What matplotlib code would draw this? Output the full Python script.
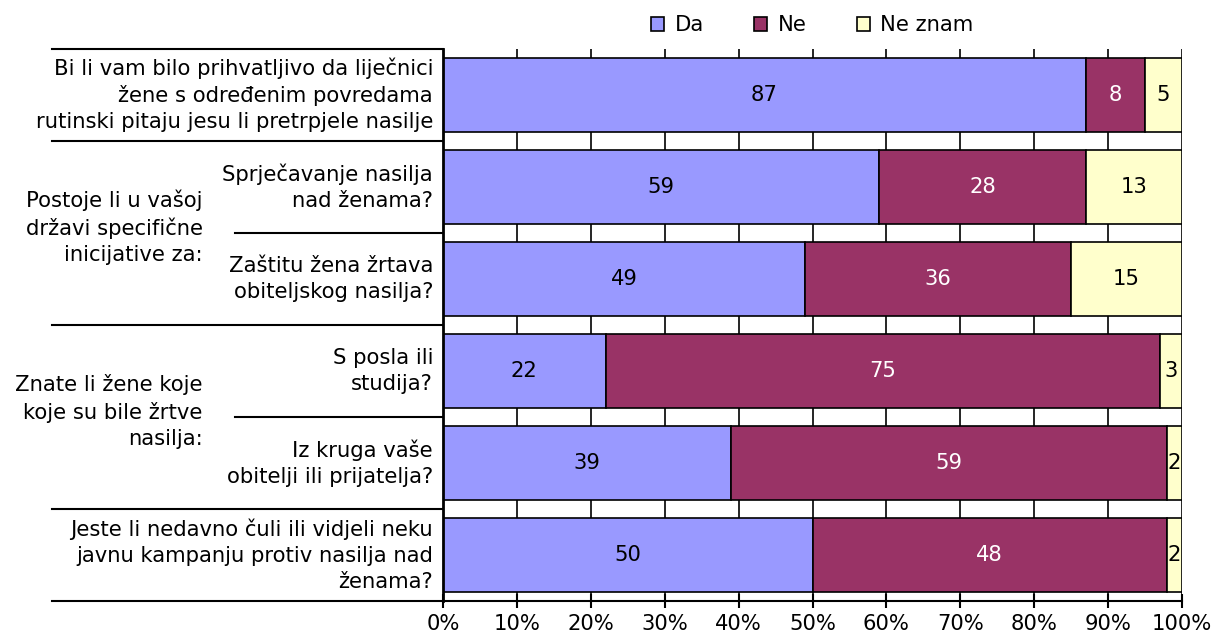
import matplotlib
matplotlib.use('Agg')
import matplotlib.pyplot as plt
import matplotlib.transforms as mtransforms

# Data
series = ['Da', 'Ne', 'Ne znam']
colors = ['#9999FF', '#993366', '#FFFFCC']
text_colors = ['black', 'white', 'black']

da = [87, 59, 49, 22, 39, 50]
ne = [8, 28, 36, 75, 59, 48]
ne_znam = [5, 13, 15, 3, 2, 2]

row_labels = [
    'Bi li vam bilo prihvatljivo da liječnici\nžene s određenim povredama\nrutinski pitaju jesu li pretrpjele nasilje',
    'Sprječavanje nasilja\nnad ženama?',
    'Zaštitu žena žrtava\nobiteljskog nasilja?',
    'S posla ili\nstudija?',
    'Iz kruga vaše\nobitelji ili prijatelja?',
    'Jeste li nedavno čuli ili vidjeli neku\njavnu kampanju protiv nasilja nad\nženama?',
]
group_labels = [
    'Postoje li u vašoj\ndržavi specifične\ninicijative za:',
    'Znate li žene koje\nkoje su bile žrtve\nnasilja:',
]
group_rows = [(1, 2), (3, 4)]

FS = 15.2
plt.rcParams['font.family'] = ['DejaVu Sans']
plt.rcParams['font.size'] = FS

fig = plt.figure(figsize=(12.18, 6.35), dpi=100)
ax = fig.add_axes([443 / 1218, 1 - 601 / 635, (1182 - 443) / 1218, (601 - 49) / 635])

y = list(range(len(da)))
left = [0] * len(da)
for vals, name, col, tcol in zip([da, ne, ne_znam], series, colors, text_colors):
    bars = ax.barh(y, vals, left=left, height=0.81, color=col, edgecolor='black',
                   linewidth=1.2, label=name, zorder=2)
    ax.bar_label(bars, labels=[str(v) for v in vals], label_type='center',
                 color=tcol, fontsize=FS)
    left = [l + v for l, v in zip(left, vals)]

ax.set_xlim(0, 100)
ax.set_ylim(5.5, -0.5)
ax.set_xticks(range(0, 101, 10))
ax.set_xticklabels([f'{t}%' for t in range(0, 101, 10)])
ax.set_yticks([])
ax.grid(axis='x', color='black', linewidth=1.2, zorder=0)
ax.set_axisbelow(True)
for s in ['top', 'right']:
    ax.spines[s].set_visible(False)
ax.spines['left'].set_linewidth(2)
ax.spines['bottom'].set_linewidth(1.5)
ax.tick_params(axis='x', direction='inout', length=10, width=1.5, pad=4)

trans = mtransforms.blended_transform_factory(ax.transAxes, ax.transData)

# separators in the label area
for yb in [-0.5, 0.5, 2.5, 4.5, 5.5]:
    ax.plot([-0.529, 0], [yb, yb], color='black', linewidth=1.5,
            transform=trans, clip_on=False)
for yb in [1.5, 3.5]:
    ax.plot([-0.281, 0], [yb, yb], color='black', linewidth=1.5,
            transform=trans, clip_on=False)

for i, lab in enumerate(row_labels):
    ax.text(-0.0135, i, lab, transform=trans, ha='right', va='center',
            multialignment='right', fontsize=FS, linespacing=1.37)

for (a, b), lab in zip(group_rows, group_labels):
    ax.text(-0.325, (a + b) / 2 - 0.06, lab, transform=trans, ha='right', va='center',
            multialignment='right', fontsize=FS, linespacing=1.37)

ax.legend(loc='lower center', bbox_to_anchor=(0.5, 1.0), ncol=3, frameon=False,
          handlelength=0.6, handleheight=0.6, handletextpad=0.5, columnspacing=2.4,
          borderaxespad=0.25, fontsize=FS)

fig.savefig('out.png', dpi=100)
